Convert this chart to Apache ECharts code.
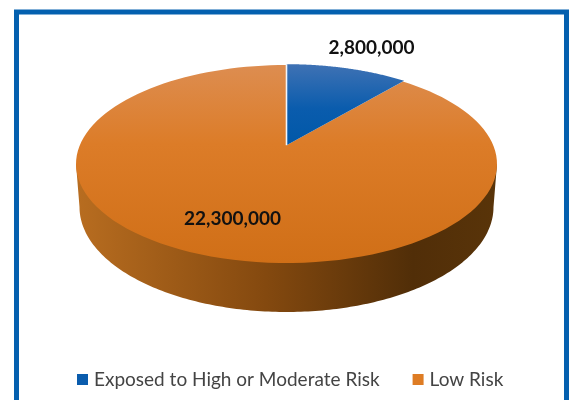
<!DOCTYPE html>
<html>
<head>
<meta charset="utf-8">
<style>html,body{margin:0;padding:0;background:#fff}#c{width:569px;height:400px}</style>
<script src="https://cdn.jsdelivr.net/npm/echarts@6/dist/echarts.min.js"></script>
</head>
<body>
<div id="c"></div>
<script>
var categories = ['Exposed to High or Moderate Risk', 'Low Risk'];
var values = [2800000, 22300000];
var seriesColors = ['#0A5CAD', '#DE7C24'];

var total = values[0] + values[1];
var face = { cx: 286.5, cy: 164, rx: 210.5, ry: 99, tilt: 0.19 };
var base = { cx: 286.5, cy: 207, rx: 207, ry: 105 };

// Circle-to-ellipse perspective projection of a pie angle (0 = top, clockwise)
function project(angle, r) {
  var u = Math.sin(angle) * r, v = Math.cos(angle) * r, d = face.tilt;
  var w = 1 + d * v;
  return [face.cx + face.rx * u * Math.sqrt(1 - d * d) / w,
          face.cy - face.ry * (v + d) / w];
}
function slicePoints(from, to, r) {
  var pts = [project(0, 0)];
  for (var i = 0; i <= 120; i++) {
    pts.push(project(from + (to - from) * i / 120, r));
  }
  return pts;
}
function sweep(i) {
  var before = 0;
  for (var k = 0; k < i; k++) before += values[k];
  return [before / total * Math.PI * 2, (before + values[i]) / total * Math.PI * 2];
}
function label(i, x, y) {
  return {
    type: 'text', x: x, y: y, silent: true,
    style: {
      text: values[i].toLocaleString('en-US'), align: 'center', verticalAlign: 'middle',
      font: 'bold 19px Lato', fill: '#111'
    }
  };
}
var fills = [
  { type: 'linear', x: 0, y: 0, x2: 0, y2: 1, colorStops: [
    { offset: 0, color: '#3F72B4' }, { offset: 0.55, color: '#0A5CAD' }, { offset: 1, color: '#0058A8' }] },
  { type: 'linear', x: 0, y: 0, x2: 0, y2: 1, colorStops: [
    { offset: 0, color: '#DD8D50' }, { offset: 0.4, color: '#DC7C28' }, { offset: 1, color: '#D06F17' }] }
];
var sideFill = { type: 'linear', x: 0, y: 0, x2: 1, y2: 0, colorStops: [
  { offset: 0, color: '#B86D20' }, { offset: 0.45, color: '#84490F' },
  { offset: 0.8, color: '#512E08' }, { offset: 1, color: '#593409' }] };

function sideRender() {
  var pts = [[face.cx - face.rx, face.cy]];
  for (var i = 0; i <= 180; i++) {
    var a = Math.PI * i / 180;
    pts.push([base.cx - base.rx * Math.cos(a), base.cy + base.ry * Math.sin(a)]);
  }
  pts.push([face.cx + face.rx, face.cy]);
  return { type: 'polygon', shape: { points: pts }, style: { fill: sideFill } };
}
function sliceRender(i, radius, labelX, labelY) {
  return function () {
    var s = sweep(i);
    var kids = [{ type: 'polygon', shape: { points: slicePoints(s[0], s[1], radius) }, style: { fill: fills[i] } }];
    if (i === 0) {
      var a = project(0, 0), b = project(0, radius);
      kids.push({ type: 'line', shape: { x1: a[0], y1: a[1], x2: b[0], y2: b[1] },
                  style: { stroke: '#F2F5FA', lineWidth: 1.6 } });
    }
    kids.push(label(i, labelX, labelY));
    return { type: 'group', children: kids };
  };
}

var chart = echarts.init(document.getElementById('c'), null, { renderer: 'canvas' });
chart.setOption({
  animation: false,
  backgroundColor: '#fff',
  legend: {
    data: categories, left: 72, top: 365, itemWidth: 11, itemHeight: 11, itemGap: 33,
    icon: 'rect',
    textStyle: { fontFamily: 'Lato', fontSize: 19, color: '#444', padding: [0, 0, 0, 1] }
  },
  graphic: [{
    type: 'rect', z: 100, silent: true,
    shape: { x: 16.5, y: 12, width: 550, height: 420 },
    style: { fill: 'none', stroke: '#0460AF', lineWidth: 5 }
  }],
  series: [
    { type: 'custom', name: 'side', coordinateSystem: 'none', silent: true, z: 1, data: [total], renderItem: sideRender },
    { type: 'custom', name: categories[1], coordinateSystem: 'none', silent: true, z: 2, data: [values[1]],
      itemStyle: { color: seriesColors[1] }, renderItem: sliceRender(1, 1, 232.5, 219) },
    { type: 'custom', name: categories[0], coordinateSystem: 'none', silent: true, z: 3, data: [values[0]],
      itemStyle: { color: seriesColors[0] }, renderItem: sliceRender(0, 1.012, 371.5, 47.5) }
  ]
});
</script>
</body>
</html>
